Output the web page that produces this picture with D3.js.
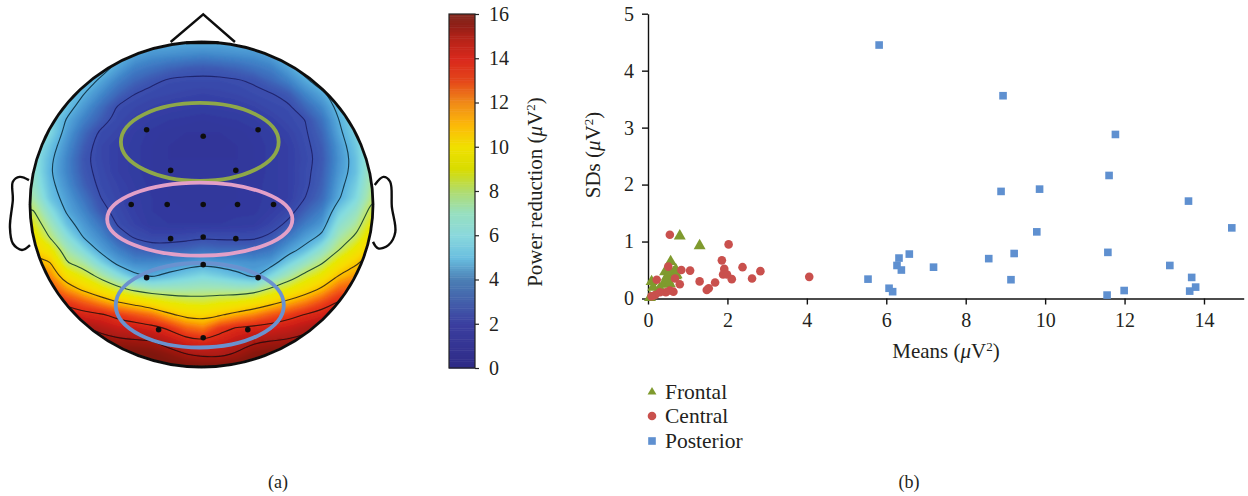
<!DOCTYPE html>
<html>
<head>
<meta charset="utf-8">
<script src="https://cdn.jsdelivr.net/npm/d3@7"></script>
<style>
  html, body { margin: 0; padding: 0; background: #fff; }
  text { font-family: "Liberation Serif", serif; fill: #231f20; }
</style>
</head>
<body>
<div id="chart"></div>
<script>
// panel (a): power reduction, one row per 13px, one column per 17px
let scalpRows = [
  [6.5,6,6,6,5.6,5.2,5,5,5,4.9,4.9,4.9,5,5,5,5.2,5.6,6,6,6,6.5],
  [6.5,6,6,6,5.5,5.2,4.7,4.4,4.3,4.2,4.1,4.2,4.3,4.4,4.7,5.2,5.5,6,6,6,6.5],
  [6.5,6,6,5.8,5.4,4.7,4,3.7,3.4,3.2,3.1,3.2,3.4,3.7,4,4.7,5.4,5.8,6,6,6.5],
  [6.5,6,5.8,5.5,4.8,4,3.4,3,2.65,2.6,2.6,2.6,2.7,2.9,3.4,4,4.8,5.5,5.8,6,6.5],
  [6.5,6,5.6,5,4.2,3.4,2.8,2.5,2.4,2.3,2.2,2.3,2.4,2.6,2.75,3.1,4.1,4.8,5.5,6,6.5],
  [6.5,6,5.4,4.5,3.6,2.7,2.4,2.2,2,1.9,1.8,1.9,2,2.2,2.5,2.65,3.4,4.2,5.3,6,6.5],
  [6.5,6,4.9,4,3.2,2.5,2.1,1.8,1.6,1.5,1.4,1.5,1.6,1.8,2.1,2.5,2.8,3.7,5,6,6.8],
  [6.5,6,4.6,3.5,2.6,2.3,1.8,1.5,1.3,1.2,1.2,1.2,1.3,1.5,1.8,2.2,2.7,3.4,4.8,5.8,7],
  [6.5,5.5,4.3,3.2,2.4,2,1.7,1.4,1.2,1.2,1.2,1.2,1.2,1.4,1.7,2,2.6,3.2,4.5,5.6,7],
  [6.5,5.2,4.1,3,2.4,2,1.7,1.4,1.2,1.2,1.2,1.2,1.2,1.4,1.7,2,2.5,3.1,4.4,5.4,7.2],
  [6.6,5.1,4.1,3.1,2.5,2,1.7,1.4,1.3,1.3,1.3,1.3,1.3,1.4,1.7,2,2.6,3.2,4.5,5.4,7.4],
  [6.8,5.3,4.3,3.3,2.6,2.2,1.8,1.5,1.4,1.4,1.4,1.4,1.4,1.5,1.7,2,2.6,3.3,4.7,5.7,7.6],
  [7.3,5.5,4.6,3.7,2.8,2.3,1.9,1.6,1.4,1.4,1.4,1.4,1.4,1.5,1.7,2,2.8,3.5,4.9,6,7.9],
  [8.1,6.3,4.85,4.1,3.1,2.5,2,1.6,1.5,1.4,1.4,1.4,1.5,1.5,1.9,2.4,3.3,4,5.7,6.7,8.6],
  [8.9,7.1,5.4,4.5,3.7,2.7,2.2,1.7,1.6,1.6,1.6,1.6,1.7,1.8,2.3,3,3.9,4.5,6.4,7.4,9.3],
  [9.7,7.9,6.3,4.9,4.2,3.2,2.7,2.4,2.4,2.5,2.7,2.6,2.6,2.6,3,3.8,4.6,5.2,7.2,8.2,10.1],
  [10.5,9.4,7.2,6,4.7,4,3.4,3.2,3.3,3.4,3.6,3.5,3.5,3.5,3.8,4.6,5.3,6.6,8,9.4,10.8],
  [11.3,10.9,8.1,7.3,5.9,4.7,4.2,4.2,4.3,4.5,4.8,4.6,4.5,4.4,4.6,5.7,6.8,7.9,9.5,10.6,11.6],
  [12.2,11.8,9.9,8.8,7.5,6.3,5.2,4.9,5.3,5.7,6,5.7,5.3,4.8,6,7.2,8.4,9.4,10.9,11.6,12.4],
  [13.1,12.7,11.5,10.5,9.5,8.4,7.6,7.1,7.1,7.1,7.2,7.2,7.1,7.2,8.2,9,10,11,12.3,12.6,13.1],
  [13.9,13.6,13.1,12.4,11.6,10.8,10.2,9.6,9,8.7,8.6,8.9,9.1,9.6,10.3,11.1,11.8,12.7,13.6,13.6,13.9],
  [14.7,14.6,14.3,13.9,13.7,13.1,12.6,12.1,11.1,10.4,10.2,10.7,11.3,11.8,12.5,13,13.6,14,14.6,14.6,14.6],
  [15.3,15.3,15.2,15.1,14.7,14.3,14.2,13.9,13.3,12.3,11.9,13.1,13.6,13.8,14,14.3,14.7,15.1,15.3,15.3,15.3],
  [15.7,15.7,15.7,15.6,15.4,15.2,15.1,15,14.5,13.9,13.6,14,14.5,14.9,15,15.1,15.3,15.5,15.7,15.7,15.7],
  [15.8,15.8,15.8,15.8,15.8,15.8,15.8,15.7,15.4,15,14.8,14.8,15.1,15.5,15.7,15.8,15.8,15.8,15.8,15.8,15.8],
  [16,16,16,16,16,16,16,16,15.9,15.8,15.7,15.7,15.8,15.9,16,16,16,16,16,16,16]
];
let contourLevels = [2.8, 5, 8, 10.8, 13.5, 15];
let contourColors = ["#1d2068", "#0d3040", "#14402c", "#3a2a10", "#2a0f0a", "#2a0a08"];

// the map is more saturated than the printed bar
let headStops = [0, 2, 3, 4, 5, 6, 7, 8, 9, 10, 11, 12, 13, 14, 15, 15.5, 16];
let headColors = ["#2a2a8c", "#3540a6", "#3d58b2", "#3f84c8", "#5cb4e0", "#84dce0", "#a0e4b8", "#c4e868", "#e8e800", "#f8dc00", "#fcb800", "#f87010", "#e83818", "#d02018", "#a01810", "#821810", "#7a1a12"];

// electrode positions, head = unit circle
let electrodeX = [-0.32, 0.01, 0.33, -0.18, 0.20, -0.41, -0.20, 0.01, 0.21, 0.42, -0.18, 0.01, 0.20, 0.01, -0.32, 0.33, -0.25, 0.01, 0.27];
let electrodeY = [-0.46, -0.42, -0.46, -0.21, -0.21, 0, 0, 0, 0, 0, 0.21, 0.20, 0.21, 0.37, 0.45, 0.45, 0.77, 0.82, 0.77];

let noseX = [-0.18, 0.01, 0.195];
let noseY = [-1.0, -1.17, -1.0];
let noseBaseX = [-0.09, 0.1];
let noseBaseY = [-0.995, -0.995];
let leftEarX = [-1.006, -1.06, -1.10, -1.10, -1.117, -1.10, -1.047, -1.0];
let leftEarY = [-0.15, -0.17, -0.14, -0.03, 0.14, 0.24, 0.28, 0.25];
let rightEarX = [1.01, 1.06, 1.10, 1.11, 1.13, 1.09, 1.03, 1.0];
let rightEarY = [-0.12, -0.17, -0.14, 0.015, 0.17, 0.25, 0.27, 0.23];

// colour bar
let barStops = [0, 2, 4, 5, 6, 7, 8, 9, 10, 11, 12, 13, 14, 15, 15.5, 16];
let barColors = ["#2e2a86", "#3b3fa0", "#4b7fb5", "#6abfe0", "#8ad8dc", "#97dfc0", "#b0dc6e", "#d8dc00", "#f0e000", "#fcb808", "#f08a18", "#e4461a", "#d8281c", "#b02318", "#8f1e16", "#852a20"];
let barTicks = [0, 2, 4, 6, 8, 10, 12, 14, 16];

// panel (b): means and SDs per region
let frontalMeans = [0.80, 1.30, 0.57, 0.70, 0.43, 0.59, 0.72, 0.51, 0.40, 0.09, 0.13, 0.26, 0.05, 0.64, 0.47, 0.30, 0.55, 0.45, 0.62, 0.55, 0.70];
let frontalSDs = [1.12, 0.95, 0.67, 0.53, 0.49, 0.42, 0.44, 0.33, 0.27, 0.32, 0.22, 0.16, 0.04, 0.48, 0.40, 0.20, 0.49, 0.35, 0.38, 0.28, 0.42];
let centralMeans = [0.55, 2.03, 1.86, 1.92, 1.89, 1.99, 2.11, 2.38, 2.62, 2.83, 4.06, 0.84, 1.06, 1.30, 1.69, 1.53, 1.48, 0.80, 0.68, 0.51, 0.22, 0.64, 0.55, 0.45, 0.30, 0.18, 0.09];
let centralSDs = [1.12, 0.95, 0.67, 0.52, 0.42, 0.42, 0.34, 0.55, 0.35, 0.48, 0.38, 0.50, 0.49, 0.30, 0.28, 0.18, 0.15, 0.25, 0.35, 0.56, 0.33, 0.12, 0.14, 0.11, 0.11, 0.06, 0.04];
let posteriorMeans = [5.82, 8.94, 11.77, 11.61, 8.89, 9.86, 13.61, 14.70, 9.79, 11.58, 9.22, 8.58, 6.58, 6.32, 6.27, 6.38, 7.19, 5.54, 9.14, 13.14, 13.69, 13.79, 13.64, 11.99, 11.56, 6.07, 6.16];
let posteriorSDs = [4.45, 3.56, 2.88, 2.16, 1.88, 1.92, 1.71, 1.24, 1.17, 0.81, 0.79, 0.70, 0.78, 0.71, 0.58, 0.50, 0.55, 0.34, 0.33, 0.58, 0.37, 0.20, 0.13, 0.14, 0.06, 0.18, 0.12];
let xTicks = [0, 2, 4, 6, 8, 10, 12, 14];
let yTicks = [0, 1, 2, 3, 4, 5];

let svg = d3.select("#chart").append("svg")
  .attr("width", 1248)
  .attr("height", 496)
  .style("display", "block");

// writes "label (uV2)" with italic mu and a raised 2
function unitLabel(sel, label) {
  sel.append("tspan").text(label + " (");
  sel.append("tspan").attr("font-style", "italic").text("\u03bc");
  sel.append("tspan").text("V");
  sel.append("tspan").attr("font-size", "0.62em").attr("dy", "-0.55em").text("2");
  sel.append("tspan").attr("dy", "0.34em").text(")");
}

//---- panel (a)
let color = d3.scaleLinear().domain(barStops).range(barColors).clamp(true);
let headColor = d3.scaleLinear().domain(headStops).range(headColors).clamp(true);
let headX = d3.scaleLinear().domain([-1, 1]).range([30, 373]);
let headY = d3.scaleLinear().domain([-1, 1]).range([42, 367]);
let nRows = scalpRows.length;
let nCols = scalpRows[0].length;
// d3.contours puts value i at i + 0.5
let gridX = d3.scaleLinear().domain([0.5, nCols - 0.5]).range([33, 373]);
let gridY = d3.scaleLinear().domain([0.5, nRows - 0.5]).range([42, 367]);
let gridPath = d3.geoPath(d3.geoTransform({
  point: function(x, y) { this.stream.point(gridX(x), gridY(y)); }
}));
let flatValues = scalpRows.flat();

let defs = svg.append("defs");
defs.append("clipPath").attr("id", "headClip")
  .append("ellipse")
  .attr("cx", headX(0)).attr("cy", headY(0))
  .attr("rx", headX(1) - headX(0)).attr("ry", headY(1) - headY(0));
defs.append("filter").attr("id", "soft")
  .append("feGaussianBlur").attr("stdDeviation", 1.1);
defs.append("filter").attr("id", "print")
  .attr("x", "-5%").attr("y", "-5%").attr("width", "110%").attr("height", "110%")
  .append("feGaussianBlur").attr("stdDeviation", 0.45);

let head = svg.append("g").attr("filter", "url(#print)");
let clipped = head.append("g").attr("clip-path", "url(#headClip)");

// smooth colour field as stacked filled contours
let bands = d3.contours().size([nCols, nRows]).thresholds(d3.range(0, 16.01, 0.2))(flatValues);
clipped.append("g").attr("filter", "url(#soft)")
  .selectAll("path")
  .data(bands)
  .enter()
  .append("path")
  .attr("d", gridPath)
  .attr("fill", d => headColor(d.value))
  .attr("stroke", d => headColor(d.value))
  .attr("stroke-width", 0.5);

// contour lines, rounded so the grid cells do not show
let ringLine = d3.line().x(d => gridX(d[0])).y(d => gridY(d[1])).curve(d3.curveBasisClosed);
let lines = d3.contours().size([nCols, nRows]).thresholds(contourLevels)(flatValues);
clipped.append("g")
  .selectAll("path")
  .data(lines)
  .enter()
  .append("path")
  .attr("d", d => d.coordinates.map(poly => poly.map(ring => ringLine(ring.slice(0, -1))).join("")).join(""))
  .attr("fill", "none")
  .attr("stroke", (d, i) => contourColors[i])
  .attr("stroke-width", 1.1)
  .attr("opacity", 0.9);

let headLine = d3.line().x(d => headX(d[0])).y(d => headY(d[1]));
let earLine = d3.line().x(d => headX(d[0])).y(d => headY(d[1])).curve(d3.curveCatmullRom);
head.append("path").attr("d", headLine(d3.zip(noseX, noseY)))
  .attr("fill", "none").attr("stroke", "#111").attr("stroke-width", 2.4);
head.append("path").attr("d", headLine(d3.zip(noseBaseX, noseBaseY)))
  .attr("fill", "none").attr("stroke", "#111").attr("stroke-width", 3);
head.append("path").attr("d", earLine(d3.zip(leftEarX, leftEarY)))
  .attr("fill", "none").attr("stroke", "#111").attr("stroke-width", 2.4);
head.append("path").attr("d", earLine(d3.zip(rightEarX, rightEarY)))
  .attr("fill", "none").attr("stroke", "#111").attr("stroke-width", 2.4);
head.append("ellipse")
  .attr("cx", headX(0)).attr("cy", headY(0))
  .attr("rx", headX(1) - headX(0)).attr("ry", headY(1) - headY(0))
  .attr("fill", "none").attr("stroke", "#111").attr("stroke-width", 2.8);

// region ellipses
let regionCx = [-0.01, -0.01, -0.01];
let regionCy = [-0.385, 0.09, 0.62];
let regionRx = [0.46, 0.54, 0.49];
let regionRy = [0.24, 0.225, 0.26];
let regionColors = ["#8ea84a", "#e3a0c8", "#6b92cf"];
head.selectAll(".region")
  .data(regionCx)
  .enter()
  .append("ellipse")
  .attr("class", "region")
  .attr("cx", d => headX(d))
  .attr("cy", (d, i) => headY(regionCy[i]))
  .attr("rx", (d, i) => headX(regionRx[i]) - headX(0))
  .attr("ry", (d, i) => headY(regionRy[i]) - headY(0))
  .attr("fill", "none")
  .attr("stroke", (d, i) => regionColors[i])
  .attr("stroke-width", 3.8);

head.selectAll(".electrode")
  .data(electrodeX)
  .enter()
  .append("circle")
  .attr("class", "electrode")
  .attr("cx", d => headX(d))
  .attr("cy", (d, i) => headY(electrodeY[i]))
  .attr("r", 2.8)
  .attr("fill", "#111");

// colour bar
let barScale = d3.scaleLinear().domain([0, 16]).range([368, 14]);
let bar = svg.append("g");
bar.selectAll("rect")
  .data(d3.range(0, 16, 0.1))
  .enter()
  .append("rect")
  .attr("x", 449)
  .attr("width", 26)
  .attr("y", d => barScale(d + 0.1))
  .attr("height", d => barScale(d) - barScale(d + 0.1) + 0.5)
  .attr("fill", d => color(d + 0.05));
bar.append("rect")
  .attr("x", 449).attr("y", 14).attr("width", 26).attr("height", 354)
  .attr("fill", "none").attr("stroke", "#222").attr("stroke-width", 1.2);
let barAxis = bar.append("g")
  .attr("transform", "translate(475,0)")
  .call(d3.axisRight(barScale).tickValues(barTicks).tickSize(4).tickPadding(10));
barAxis.select(".domain").remove();
barAxis.selectAll("line").attr("stroke", "#222").attr("stroke-width", 1.2);
barAxis.selectAll("text").attr("font-size", 20).attr("font-family", "Liberation Serif");

svg.append("text")
  .attr("transform", "translate(542,192) rotate(-90)")
  .attr("text-anchor", "middle")
  .attr("font-size", 21)
  .call(unitLabel, "Power reduction");

svg.append("text").attr("x", 278).attr("y", 488)
  .attr("text-anchor", "middle").attr("font-size", 18).text("(a)");

//---- panel (b)
let xScale = d3.scaleLinear().domain([0, 15]).range([648, 1243.7]);
let yScale = d3.scaleLinear().domain([0, 5]).range([298.5, 13.7]);

let xAxis = svg.append("g")
  .attr("transform", "translate(0,298.5)")
  .call(d3.axisBottom(xScale).tickValues(xTicks).tickFormat(d3.format("d")).tickSize(6).tickPadding(8).tickSizeOuter(0));
let yAxis = svg.append("g")
  .attr("transform", "translate(648,0)")
  .call(d3.axisLeft(yScale).tickValues(yTicks).tickFormat(d3.format("d")).tickSize(6).tickPadding(8).tickSizeOuter(0));
[xAxis, yAxis].forEach(function(axis) {
  axis.selectAll("path,line").attr("stroke", "#111").attr("stroke-width", 1.4);
  axis.selectAll("text").attr("font-size", 20).attr("font-family", "Liberation Serif");
});

let series = [
  { name: "Frontal", xs: frontalMeans, ys: frontalSDs, fill: "#7f9a2e", shape: d3.symbolTriangle, nudge: 1.3 },
  { name: "Central", xs: centralMeans, ys: centralSDs, fill: "#c9504d", shape: d3.symbolCircle, nudge: 0 },
  { name: "Posterior", xs: posteriorMeans, ys: posteriorSDs, fill: "#5f90d0", shape: d3.symbolSquare, nudge: 0 }
];

series.forEach(function(s) {
  let symbol = d3.symbol().type(s.shape).size(s.shape === d3.symbolTriangle ? 62 : 58);
  svg.append("g").selectAll("path")
    .data(s.xs)
    .enter()
    .append("path")
    .attr("d", symbol)
    .attr("transform", (d, i) => `translate(${xScale(d)},${yScale(s.ys[i]) + s.nudge})`)
    .attr("fill", s.fill);
});

svg.append("text")
  .attr("x", 946).attr("y", 358)
  .attr("text-anchor", "middle")
  .attr("font-size", 21)
  .call(unitLabel, "Means");
svg.append("text")
  .attr("transform", "translate(600,155) rotate(-90)")
  .attr("text-anchor", "middle")
  .attr("font-size", 21)
  .call(unitLabel, "SDs");

// legend
let legendY = [394, 418, 443];
series.forEach(function(s, i) {
  let symbol = d3.symbol().type(s.shape).size(s.shape === d3.symbolTriangle ? 34 : 58);
  svg.append("path")
    .attr("d", symbol)
    .attr("transform", `translate(652,${legendY[i] - 2})`)
    .attr("fill", s.fill);
  svg.append("text")
    .attr("x", 665).attr("y", legendY[i] + 5)
    .attr("font-size", 21.5)
    .text(s.name);
});

svg.append("text").attr("x", 909).attr("y", 488)
  .attr("text-anchor", "middle").attr("font-size", 18).text("(b)");
</script>
</body>
</html>
